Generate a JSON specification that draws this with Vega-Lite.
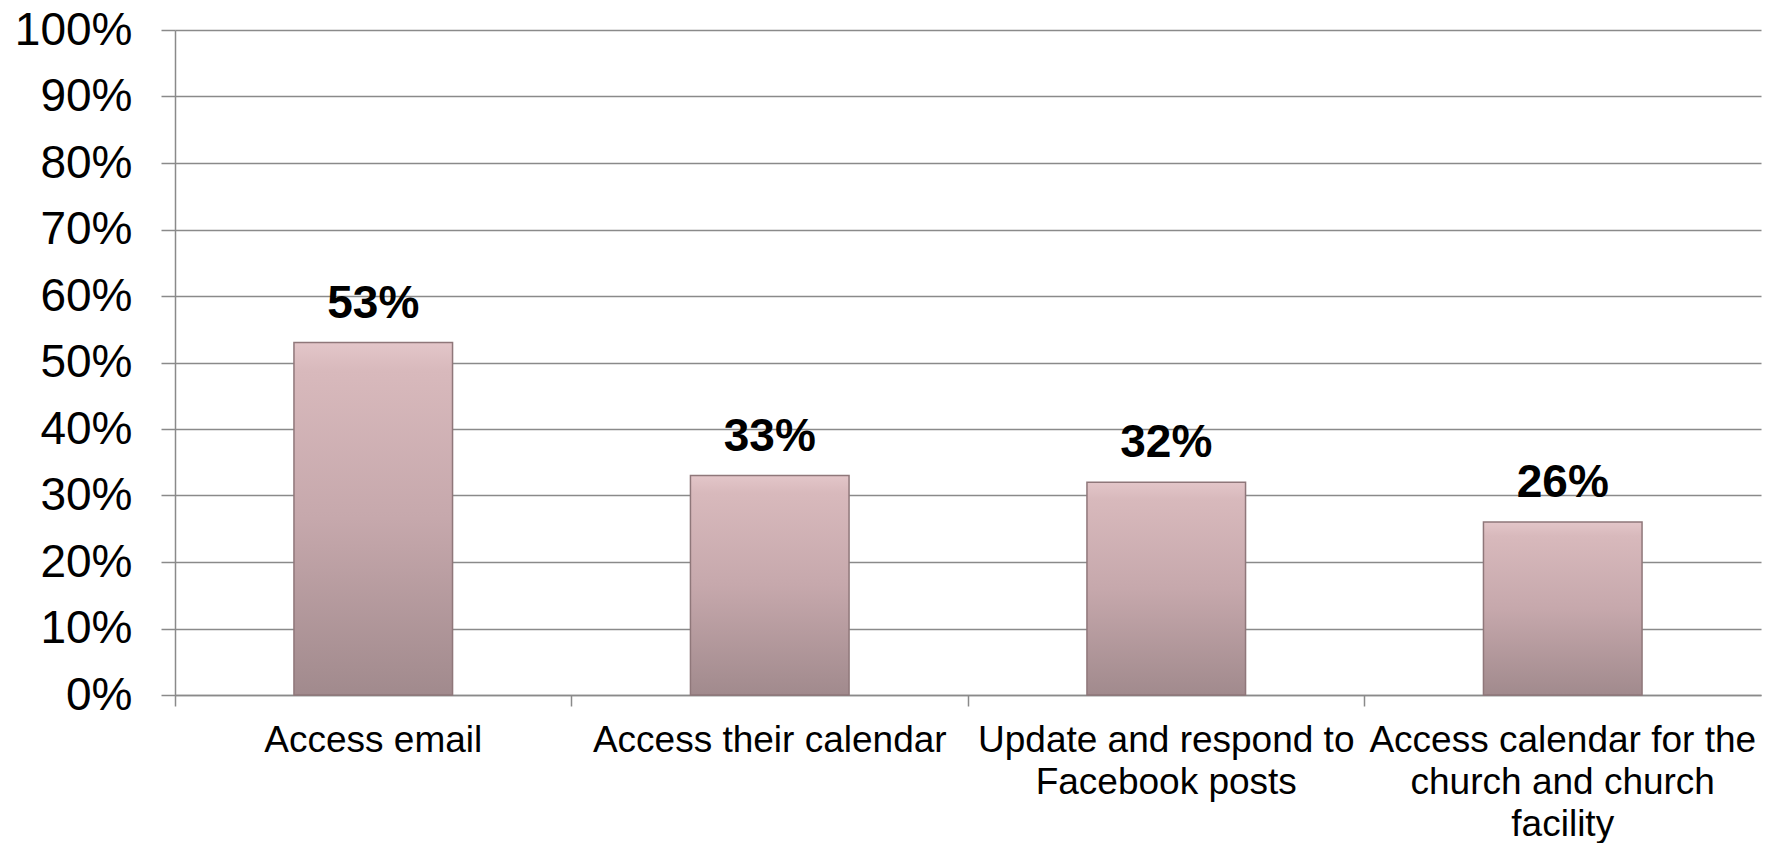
{
  "$schema": "https://vega.github.io/schema/vega-lite/v6.json",
  "width": 1586,
  "height": 665,
  "autosize": {"type": "none"},
  "padding": {"left": 175, "top": 30, "right": 11, "bottom": 148},
  "background": "white",
  "config": {"view": {"stroke": null}},
  "data": {
    "values": [
      {"task": "Access email", "share": 0.53},
      {"task": "Access their calendar", "share": 0.33},
      {"task": "Update and respond to Facebook posts", "share": 0.32},
      {"task": "Access calendar for the church and church facility", "share": 0.26}
    ]
  },
  "encoding": {
    "x": {
      "field": "task",
      "type": "nominal",
      "sort": null,
      "scale": {"paddingInner": 0, "paddingOuter": 0},
      "axis": {
        "title": null,
        "labelAngle": 0,
        "labelFont": "Liberation Sans",
        "labelFontSize": 37,
        "labelColor": "black",
        "labelLineHeight": 42,
        "labelPadding": 16,
        "labelLimit": 500,
        "bandPosition": 0,
        "ticks": true,
        "tickSize": 11,
        "tickColor": "#8a8a8a",
        "tickWidth": 1.5,
        "domainColor": "#8a8a8a",
        "domainWidth": 1.5,
        "grid": false,
        "labelExpr": "datum.value == 'Update and respond to Facebook posts' ? ['Update and respond to', 'Facebook posts'] : datum.value == 'Access calendar for the church and church facility' ? ['Access calendar for the', 'church and church', 'facility'] : datum.value"
      }
    },
    "y": {
      "field": "share",
      "type": "quantitative",
      "scale": {"domain": [0, 1]},
      "axis": {
        "title": null,
        "format": ".0%",
        "values": [0, 0.1, 0.2, 0.3, 0.4, 0.5, 0.6, 0.7, 0.8, 0.9, 1],
        "labelFont": "Liberation Sans",
        "labelFontSize": 46,
        "labelColor": "black",
        "labelPadding": 29,
        "tickSize": 14,
        "tickColor": "#8a8a8a",
        "tickWidth": 1.5,
        "domainColor": "#8a8a8a",
        "domainWidth": 1.5,
        "grid": true,
        "gridColor": "#8a8a8a",
        "gridWidth": 1.5
      }
    }
  },
  "layer": [
    {
      "mark": {
        "type": "bar",
        "width": {"band": 0.4},
        "stroke": "#8f777a",
        "strokeWidth": 1.5,
        "color": {
          "gradient": "linear",
          "x1": 0, "y1": 0, "x2": 0, "y2": 1,
          "stops": [
            {"offset": 0, "color": "#e3c6c9"},
            {"offset": 0.08, "color": "#d8b9bc"},
            {"offset": 0.5, "color": "#c6a8ac"},
            {"offset": 1, "color": "#a18a8d"}
          ]
        }
      }
    },
    {
      "mark": {
        "type": "text",
        "baseline": "bottom",
        "dy": -15,
        "font": "Liberation Sans",
        "fontSize": 46,
        "fontWeight": "bold",
        "color": "black"
      },
      "encoding": {
        "text": {"field": "share", "type": "quantitative", "format": ".0%"}
      }
    }
  ]
}
